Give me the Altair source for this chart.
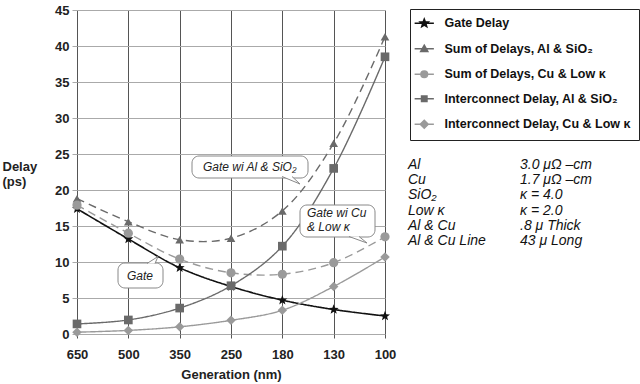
import math
import altair as alt
import pandas as pd

# Technology generations (nm) along the x axis
generations = ["650", "500", "350", "250", "180", "130", "100"]

# Delay values in picoseconds for each generation
gate_delay = [17.4, 13.2, 9.2, 6.6, 4.7, 3.4, 2.5]
sum_al_sio2 = [18.8, 15.6, 13.1, 13.3, 17.1, 26.5, 41.3]
sum_cu_lowk = [17.9, 14.0, 10.4, 8.5, 8.3, 9.9, 13.5]
ic_al_sio2 = [1.4, 1.95, 3.6, 6.7, 12.2, 23.0, 38.5]
ic_cu_lowk = [0.25, 0.5, 1.0, 1.9, 3.3, 6.6, 10.7]

series_names = [
    "Gate Delay",
    "Sum of Delays, Al & SiO₂",
    "Sum of Delays, Cu & Low κ",
    "Interconnect Delay, Al & SiO₂",
    "Interconnect Delay, Cu & Low κ",
]
series_values = [gate_delay, sum_al_sio2, sum_cu_lowk, ic_al_sio2, ic_cu_lowk]

# Material parameters listed beside the plot
material_names = ["Al", "Cu", "SiO₂", "Low κ", "Al & Cu", "Al & Cu Line"]
material_values = ["3.0 μΩ –cm", "1.7 μΩ –cm", "κ = 4.0", "κ = 2.0", ".8 μ  Thick", "43 μ  Long"]

FONT = "Liberation Sans"


def star_path(r_out=1.0, r_in=0.42):
    pts = []
    for i in range(10):
        r = r_out if i % 2 == 0 else r_in
        a = -math.pi / 2 + i * math.pi / 5
        pts.append(f"{r * math.cos(a):.3f},{r * math.sin(a):.3f}")
    return "M" + "L".join(pts) + "Z"


STAR = star_path()
# legend glyphs: a short line through the marker
LINE = "M-2.3,0H2.3"
LEG_STAR = LINE + star_path(1.0, 0.42)
LEG_TRI = LINE + "M0,-0.85L0.85,0.65L-0.85,0.65Z"
LEG_CIRC = LINE + "M-0.8,0A0.8,0.8 0 1,0 0.8,0A0.8,0.8 0 1,0 -0.8,0Z"
LEG_SQR = LINE + "M-0.65,-0.65H0.65V0.65H-0.65Z"
LEG_DIA = LINE + "M0,-0.95L0.95,0L0,0.95L-0.95,0Z"

colors = ["#111111", "#6a6a6a", "#9a9a9a", "#6a6a6a", "#9a9a9a"]
dashes = [[1, 0], [8, 5], [8, 5], [1, 0], [1, 0]]
shapes = [STAR, "triangle-up", "circle", "square", "diamond"]
sizes = [110, 75, 85, 75, 90]
widths = [1.6, 1.4, 1.4, 1.4, 1.4]

x_enc = alt.X(
    "gen:N",
    sort=generations,
    scale=alt.Scale(type="point", padding=0, domain=generations),
    axis=alt.Axis(
        title="Generation (nm)",
        labelAngle=0,
        labelFont=FONT,
        labelFontSize=13,
        labelFontWeight="bold",
        labelColor="#222",
        labelBaseline="alphabetic",
        labelPadding=20,
        tickSize=4,
        tickColor="#555",
        domain=False,
        grid=True,
        gridColor="#555",
        gridWidth=1,
        titleFont=FONT,
        titleFontSize=13,
        titleFontWeight="bold",
        titleColor="#222",
        titleBaseline="alphabetic",
        titleY=44,
    ),
)
y_enc = alt.Y(
    "delay:Q",
    scale=alt.Scale(domain=[0, 45], nice=False),
    axis=alt.Axis(
        values=list(range(0, 50, 5)),
        title=["Delay", "(ps)"],
        titleAngle=0,
        titleAlign="left",
        titleBaseline="top",
        titleX=-75,
        titleY=150,
        titleLineHeight=15,
        titleFont=FONT,
        titleFontSize=13,
        titleFontWeight="bold",
        titleColor="#222",
        labelFont=FONT,
        labelFontSize=13,
        labelFontWeight="bold",
        labelColor="#222",
        labelPadding=3,
        tickSize=5,
        tickColor="#aaa",
        domain=False,
        grid=True,
        gridColor="#aaa",
        gridWidth=1,
    ),
)

layers = []

# shadow behind the legend box
layers.append(
    alt.Chart(pd.DataFrame({"k": [0]})).mark_rect(color="#222").encode(
        x=alt.value(336), x2=alt.value(564), y=alt.value(2), y2=alt.value(128)
    )
)

# curves and markers, one series at a time
for i, (name, vals) in enumerate(zip(series_names, series_values)):
    df = pd.DataFrame({"gen": generations, "delay": vals, "series": name})
    base = alt.Chart(df)
    line = base.mark_line(
        interpolate="catmull-rom",
        color=colors[i],
        strokeWidth=widths[i],
        strokeDash=dashes[i],
    ).encode(x=x_enc, y=y_enc)
    pts = base.mark_point(
        filled=True, opacity=1, fill=colors[i], strokeWidth=0, shape=shapes[i], size=sizes[i]
    ).encode(x=x_enc, y=y_enc)
    layers += [line, pts]

# legend built from an invisible layer with explicit domains
leg_df = pd.DataFrame({"series": series_names, "gen": generations[0], "delay": [None] * 5})
legend = alt.Legend(
    orient="none",
    legendX=333,
    legendY=-1,
    title=None,
    fillColor="white",
    strokeColor="#222",
    padding=8,
    rowPadding=11.5,
    symbolSize=70,
    symbolStrokeWidth=1.5,
    labelFont=FONT,
    labelFontSize=12.5,
    labelFontWeight="bold",
    labelColor="#111",
    labelOffset=14,
    labelLimit=400,
)
layers.append(
    alt.Chart(leg_df).mark_point(filled=True, opacity=1).encode(
        x=x_enc,
        y=y_enc,
        fill=alt.Fill("series:N", scale=alt.Scale(domain=series_names, range=colors), legend=legend),
        stroke=alt.Stroke("series:N", scale=alt.Scale(domain=series_names, range=colors), legend=legend),
        shape=alt.Shape(
            "series:N",
            scale=alt.Scale(domain=series_names, range=[LEG_STAR, LEG_TRI, LEG_CIRC, LEG_SQR, LEG_DIA]),
            legend=legend,
        ),
    )
)


def callout(x1, x2, y1, y2, tail_x, tail_y, tail_path, lines, tx, ty):
    one = pd.DataFrame({"t": ["\n".join(lines)]})
    box = alt.Chart(one).mark_rect(
        fill="white", stroke="#888", strokeWidth=1, cornerRadius=7
    ).encode(x=alt.value(x1), x2=alt.value(x2), y=alt.value(y1), y2=alt.value(y2))
    tail = alt.Chart(one).mark_point(
        shape=tail_path, filled=True, fill="white", stroke="#888", strokeWidth=1, size=4, opacity=1
    ).encode(x=alt.value(tail_x), y=alt.value(tail_y))
    txt = alt.Chart(one).mark_text(
        font=FONT, fontSize=12, fontStyle="italic", color="#222", align="left",
        baseline="middle", lineBreak="\n", lineHeight=14,
    ).encode(x=alt.value(tx), y=alt.value(ty), text="t:N")
    return [box, tail, txt]


layers += callout(115, 231, 146, 168, 208, 166.5, "M-3,0L15,7.5L7,0", ["Gate wi Al & SiO₂"], 126, 157)
layers += callout(223, 298, 195, 227, 274, 226.5, "M-2,0L16,6.5L8,0", ["Gate wi Cu", "& Low κ"], 230, 203)
layers += callout(41, 86, 253, 278, 72, 253.5, "M-2,0L9,-7L6,0", ["Gate"], 50, 266)

# material parameter table
for col, items, xpos in [(0, material_names, 331), (1, material_values, 443)]:
    tdf = pd.DataFrame({"t": ["\n".join(items)]})
    layers.append(
        alt.Chart(tdf).mark_text(
            font=FONT, fontSize=14, fontStyle="italic", color="#111", align="left",
            baseline="top", lineBreak="\n", lineHeight=15.2,
        ).encode(x=alt.value(xpos), y=alt.value(148), text="t:N")
    )

chart = (
    alt.layer(*layers)
    .resolve_scale(fill="shared", stroke="shared", shape="shared")
    .properties(
        width=308,
        height=324,
        autosize=alt.AutoSizeParams(type="none"),
        padding={"left": 77, "top": 10, "right": 255, "bottom": 50},
        background="white",
    )
    .configure_view(stroke=None)
)

chart.save("out.html", embed_options={"renderer": "svg", "actions": False})
